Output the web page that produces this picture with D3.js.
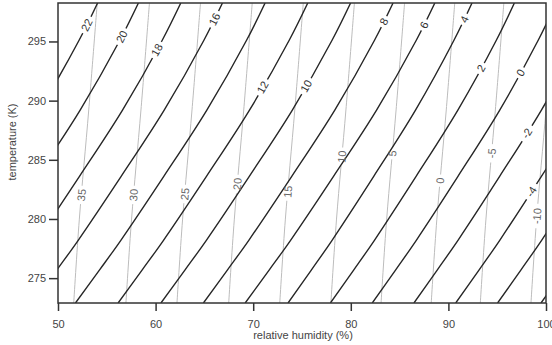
<!DOCTYPE html>
<html>
<head>
<meta charset="utf-8">
<script src="https://cdn.jsdelivr.net/npm/d3@7"></script>
<style>
body { margin: 0; background: #fff; }
text { font-family: "Liberation Sans", Arial, sans-serif; }
</style>
</head>
<body>
<div id="chart"></div>
<script>
// temperature levels (K) at which each black contour is sampled
var blackLevels = [272.9, 275.7, 278.2, 283.6, 289.2, 295.1, 298.25];
var blackValues = [22, 20, 18, 16, 14, 12, 10, 8, 6, 4, 2, 0, -2, -4, -6, -8];
// relative humidity (%) of each black contour at blackLevels
var blackRH = [
    [34.63, 37.10, 39.28, 43.68, 48.09, 52.16, 54.06],
    [38.81, 41.28, 43.46, 47.86, 52.27, 56.34, 58.24],
    [43.15, 45.62, 47.80, 52.20, 56.61, 60.68, 62.58],
    [47.42, 49.89, 52.07, 56.47, 60.88, 64.95, 66.85],
    [51.79, 54.26, 56.44, 60.84, 65.25, 69.32, 71.22],
    [56.16, 58.63, 60.81, 65.21, 69.62, 73.69, 75.59],
    [60.55, 63.02, 65.20, 69.60, 74.01, 78.08, 79.98],
    [64.90, 67.37, 69.55, 73.95, 78.36, 82.43, 84.33],
    [69.18, 71.65, 73.83, 78.23, 82.64, 86.71, 88.61],
    [73.57, 75.97, 78.08, 82.35, 86.63, 90.57, 92.42],
    [77.91, 80.31, 82.42, 86.69, 90.97, 94.91, 96.76],
    [82.20, 84.60, 86.71, 90.98, 95.26, 99.20, 101.05],
    [86.47, 88.87, 90.98, 95.25, 99.53, 103.47, 105.32],
    [90.75, 93.15, 95.26, 99.53, 103.81, 107.75, 109.60],
    [95.04, 97.44, 99.55, 103.82, 108.10, 112.04, 113.89],
    [99.49, 101.89, 104.00, 108.27, 112.55, 116.49, 118.34]
];
// black contour labels: value and temperature where the label sits
var blackLabels = [
    ["22", 296.4], ["20", 295.41], ["18", 294.29], ["16", 296.88],
    ["12", 291.13], ["10", 291.24], ["8", 296.68], ["6", 296.4],
    ["4", 296.88], ["2", 292.74], ["0", 292.37], ["-2", 287.24], ["-4", 282.31]
];

var grayLevels = [272.9, 279.92, 289.21, 298.25];
var grayValues = [35, 30, 25, 20, 15, 10, 5, 0, -5, -10];
var grayRH = [
    [51.61, 52.18, 53.15, 54.02],
    [56.96, 57.53, 58.50, 59.37],
    [62.19, 62.76, 63.73, 64.60],
    [67.49, 68.06, 69.03, 69.90],
    [72.72, 73.29, 74.26, 75.13],
    [77.96, 78.53, 79.50, 80.37],
    [83.10, 83.67, 84.64, 85.51],
    [88.24, 88.81, 89.78, 90.65],
    [93.27, 93.84, 94.81, 95.68],
    [98.46, 99.03, 100.00, 100.87]
];
var grayLabels = [
    ["35", 282.03], ["30", 282.03], ["25", 282.11], ["20", 282.96], ["15", 282.31],
    ["10", 285.27], ["5", 285.55], ["0", 283.24], ["-5", 285.55], ["-10", 280.25]
];

var xTicks = [50, 60, 70, 80, 90, 100];
var yTicks = [275, 280, 285, 290, 295];

var width = 552, height = 345;
var plotLeft = 58, plotRight = 546, plotTop = 3, plotBottom = 303;

var x = d3.scaleLinear().domain([50, 100]).range([plotLeft, plotRight]);
var y = d3.scaleLinear().domain([272.9, 298.25]).range([plotBottom, plotTop]);

var svg = d3.select("#chart").append("svg")
    .attr("width", width)
    .attr("height", height);

var defs = svg.append("defs");
defs.append("clipPath").attr("id", "plot-clip")
    .append("rect")
    .attr("x", plotLeft).attr("y", plotTop)
    .attr("width", plotRight - plotLeft).attr("height", plotBottom - plotTop);

// position and angle of a label on a contour, at temperature t
function pointAt(rhs, levels, t) {
    for (var i = 0; i < levels.length - 1; i++) {
        if (t <= levels[i + 1] || i == levels.length - 2) {
            var f = (t - levels[i]) / (levels[i + 1] - levels[i]);
            var rh = rhs[i] + f * (rhs[i + 1] - rhs[i]);
            var ang = Math.atan2(y(levels[i + 1]) - y(levels[i]), x(rhs[i + 1]) - x(rhs[i])) * 180 / Math.PI;
            return { x: x(rh), y: y(t), angle: ang };
        }
    }
}

function placeLabels(labels, values, rhList, levels) {
    return labels.map(function(l) {
        var idx = values.indexOf(+l[0]);
        var p = pointAt(rhList[idx], levels, l[1]);
        p.text = l[0];
        return p;
    });
}

var blackPlaced = placeLabels(blackLabels, blackValues, blackRH, blackLevels);
var grayPlaced = placeLabels(grayLabels, grayValues, grayRH, grayLevels);

// masks leave gaps in the lines where the labels go
function makeMask(id, placed) {
    var m = defs.append("mask").attr("id", id)
        .attr("maskUnits", "userSpaceOnUse")
        .attr("x", 0).attr("y", 0).attr("width", width).attr("height", height);
    m.append("rect").attr("x", 0).attr("y", 0).attr("width", width).attr("height", height).attr("fill", "white");
    m.selectAll("g").data(placed).enter().append("g")
        .attr("transform", d => `translate(${d.x},${d.y}) rotate(${d.angle})`)
        .append("rect")
        .attr("x", d => -(d.text.length * 6.2 + 6) / 2)
        .attr("y", -6)
        .attr("width", d => d.text.length * 6.2 + 6)
        .attr("height", 12)
        .attr("fill", "black");
}
makeMask("gray-mask", grayPlaced);
makeMask("black-mask", blackPlaced);

var line = d3.line()
    .x(d => x(d[0]))
    .y(d => y(d[1]))
    .curve(d3.curveCatmullRom);

var plot = svg.append("g").attr("clip-path", "url(#plot-clip)");

plot.append("g").attr("mask", "url(#gray-mask)")
    .selectAll("path")
    .data(grayRH)
    .enter()
    .append("path")
    .attr("d", rhs => line(rhs.map((rh, i) => [rh, grayLevels[i]])))
    .attr("fill", "none")
    .attr("stroke", "#bcbcbc")
    .attr("stroke-width", 1);

plot.append("g").attr("mask", "url(#black-mask)")
    .selectAll("path")
    .data(blackRH)
    .enter()
    .append("path")
    .attr("d", rhs => line(rhs.map((rh, i) => [rh, blackLevels[i]])))
    .attr("fill", "none")
    .attr("stroke", "#262626")
    .attr("stroke-width", 1.4);

function drawLabels(placed, color) {
    plot.append("g").selectAll("text")
        .data(placed)
        .enter()
        .append("text")
        .attr("transform", d => `translate(${d.x},${d.y}) rotate(${d.angle})`)
        .attr("text-anchor", "middle")
        .attr("dy", "0.36em")
        .style("font-size", "11px")
        .style("fill", color)
        .text(d => d.text);
}
drawLabels(grayPlaced, "#666");
drawLabels(blackPlaced, "#333");

// frame
svg.append("rect")
    .attr("x", plotLeft).attr("y", plotTop)
    .attr("width", plotRight - plotLeft).attr("height", plotBottom - plotTop)
    .attr("fill", "none")
    .attr("stroke", "#333")
    .attr("stroke-width", 1.5);

var xAxis = svg.append("g")
    .attr("transform", "translate(0," + plotBottom + ")")
    .call(d3.axisBottom(x).tickValues(xTicks).tickSize(8).tickPadding(9));

var yAxis = svg.append("g")
    .attr("transform", "translate(" + plotLeft + ",0)")
    .call(d3.axisLeft(y).tickValues(yTicks).tickSize(9).tickPadding(3));

[xAxis, yAxis].forEach(function(a) {
    a.select(".domain").remove();
    a.selectAll(".tick line").attr("stroke", "#333").attr("stroke-width", 1.5);
    a.selectAll(".tick text")
        .style("font-family", "'Liberation Sans', Arial, sans-serif")
        .style("font-size", "11px")
        .attr("fill", "#444");
});

svg.append("text")
    .attr("x", 303)
    .attr("y", 339)
    .attr("text-anchor", "middle")
    .style("font-size", "11px")
    .style("fill", "#444")
    .text("relative humidity (%)");

svg.append("text")
    .attr("transform", "translate(16,142) rotate(-90)")
    .attr("text-anchor", "middle")
    .style("font-size", "11px")
    .style("fill", "#444")
    .text("temperature (K)");
</script>
</body>
</html>
